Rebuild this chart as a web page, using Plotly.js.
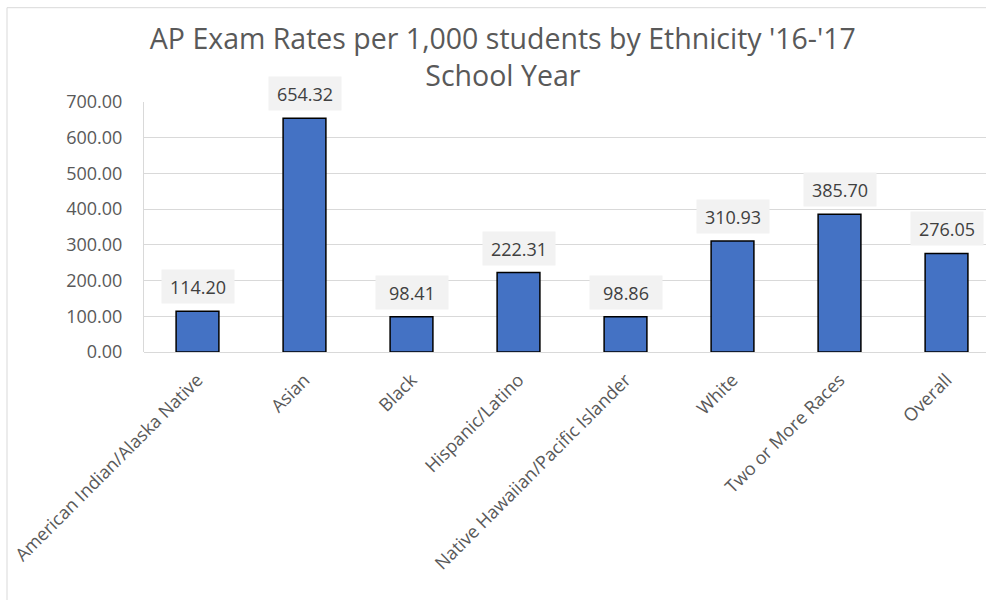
<!DOCTYPE html>
<html>
<head>
<meta charset="utf-8">
<script src="https://cdn.plot.ly/plotly-3.0.1.min.js"></script>
<style>
  html, body { margin: 0; padding: 0; background: #fff; }
  #chart { width: 986px; height: 600px; }
</style>
</head>
<body>
<div id="chart"></div>
<script>
const categories = [
  "American Indian/Alaska Native",
  "Asian",
  "Black",
  "Hispanic/Latino",
  "Native Hawaiian/Pacific Islander",
  "White",
  "Two or More Races",
  "Overall"
];
const rates = [114.20, 654.32, 98.41, 222.31, 98.86, 310.93, 385.70, 276.05];
const yTickValues = [0, 100, 200, 300, 400, 500, 600, 700];
const yTickLabels = ["0.00", "100.00", "200.00", "300.00", "400.00", "500.00", "600.00", "700.00"];
const chartTitle = "AP Exam Rates per 1,000 students by Ethnicity '16-'17<br>School Year";

const FONT = "'Open Sans', 'Liberation Sans', sans-serif";

const trace = {
  type: "bar",
  x: categories,
  y: rates,
  marker: { color: "#4472C4", line: { color: "#000000", width: 1.5 } },
  hoverinfo: "x+y"
};

const labelAnnotations = categories.map((c, i) => ({
  x: c,
  y: rates[i],
  xref: "x",
  yref: "y",
  text: rates[i].toFixed(2),
  showarrow: false,
  yanchor: "bottom",
  yshift: 7,
  bgcolor: "#f2f2f2",
  borderpad: 4.5,
  width: 63,
  font: { family: FONT, size: 18, color: "#404040" }
}));

const layout = {
  width: 986,
  height: 600,
  margin: { l: 144, r: 0, t: 101.5, b: 248 },
  paper_bgcolor: "#ffffff",
  plot_bgcolor: "#ffffff",
  showlegend: false,
  bargap: 0.6,
  title: {
    text: chartTitle,
    x: 0.51,
    xanchor: "center",
    xref: "container",
    y: 0.918,
    yanchor: "top",
    yref: "container",
    font: { family: FONT, size: 28.5, color: "#595959" }
  },
  xaxis: {
    type: "category",
    range: [-0.5, 7.369],
    tickangle: -45,
    showgrid: false,
    showline: false,
    zeroline: false,
    ticks: "",
    ticklabelstandoff: 13,
    tickfont: { family: FONT, size: 18, color: "#595959" },
    automargin: false
  },
  yaxis: {
    range: [0, 700],
    tickvals: yTickValues,
    ticktext: yTickLabels,
    showgrid: true,
    gridcolor: "#d9d9d9",
    gridwidth: 1,
    showline: true,
    linecolor: "#d9d9d9",
    linewidth: 1,
    zeroline: true,
    zerolinecolor: "#d9d9d9",
    zerolinewidth: 1,
    ticks: "",
    ticklabelstandoff: 17,
    tickfont: { family: FONT, size: 18, color: "#595959" },
    automargin: false
  },
  shapes: [
    {
      type: "line", xref: "paper", yref: "paper",
      x0: (7 - 144) / 842, x1: 1.2,
      y0: (352 - 7) / 250.5, y1: (352 - 7) / 250.5,
      line: { color: "#d9d9d9", width: 1 }
    },
    {
      type: "line", xref: "paper", yref: "paper",
      x0: (7 - 144) / 842, x1: (7 - 144) / 842,
      y0: (352 - 7) / 250.5, y1: -1.2,
      line: { color: "#d9d9d9", width: 1 }
    }
  ],
  annotations: labelAnnotations
};

Plotly.newPlot("chart", [trace], layout, { displayModeBar: false, staticPlot: true });
</script>
</body>
</html>
